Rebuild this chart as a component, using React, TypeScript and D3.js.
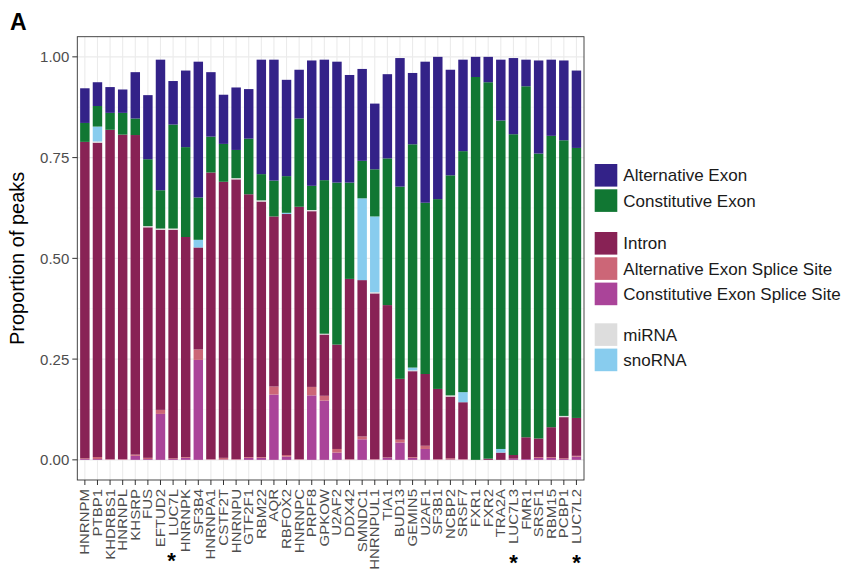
import React from "react";
import * as d3 from "d3";

const WIDTH = 841;
const HEIGHT = 577;

const categories = [
  "HNRNPM", "PTBP1", "KHDRBS1", "HNRNPL", "KHSRP", "FUS", "EFTUD2", "LUC7L", "HNRNPK", "SF3B4",
  "HNRNPA1", "CSTF2T", "HNRNPU", "GTF2F1", "RBM22", "AQR", "RBFOX2", "HNRNPC", "PRPF8", "GPKOW",
  "U2AF2", "DDX42", "SMNDC1", "HNRNPUL1", "TIA1", "BUD13", "GEMIN5", "U2AF1", "SF3B1", "NCBP2",
  "SRSF7", "FXR1", "FXR2", "TRA2A", "LUC7L3", "FMR1", "SRSF1", "RBM15", "PCBP1", "LUC7L2",
];

const starred = ["LUC7L", "LUC7L3", "LUC7L2"];

// proportions per category, one array per peak type
const constitutiveSplice = [
  0.002, 0.002, 0.001, 0.001, 0.010, 0.002, 0.114, 0.002, 0.005, 0.248,
  0.001, 0.001, 0.001, 0.005, 0.005, 0.162, 0.008, 0.001, 0.160, 0.147,
  0.018, 0.001, 0.051, 0.001, 0.005, 0.043, 0.005, 0.027, 0.001, 0.001,
  0.001, 0, 0, 0, 0.003, 0.002, 0.005, 0.005, 0.002, 0.008,
];
const alternativeSplice = [
  0.002, 0.005, 0.001, 0.001, 0.003, 0.003, 0.010, 0.002, 0.002, 0.026,
  0.001, 0.004, 0.001, 0.002, 0.002, 0.020, 0.004, 0.001, 0.021, 0.012,
  0.009, 0.001, 0.007, 0.001, 0.001, 0.007, 0.002, 0.008, 0.001, 0.003,
  0.001, 0, 0, 0, 0, 0, 0.002, 0.002, 0.002, 0.002,
];
const intron = [
  0.785, 0.780, 0.817, 0.805, 0.793, 0.572, 0.447, 0.567, 0.546, 0.253,
  0.711, 0.685, 0.694, 0.652, 0.634, 0.422, 0.598, 0.626, 0.436, 0.152,
  0.259, 0.447, 0.388, 0.411, 0.378, 0.151, 0.213, 0.178, 0.174, 0.153,
  0.141, 0, 0.003, 0.018, 0.009, 0.054, 0.046, 0.074, 0.102, 0.094,
];
const miRNA = [
  0, 0.003, 0, 0, 0, 0.003, 0.003, 0.003, 0, 0,
  0, 0, 0.003, 0, 0.003, 0, 0, 0, 0.003, 0.002,
  0, 0, 0, 0.003, 0, 0, 0.002, 0, 0, 0.003,
  0, 0, 0, 0, 0, 0, 0, 0, 0.003, 0,
];
const snoRNA = [
  0, 0.037, 0, 0, 0, 0, 0, 0, 0, 0.019,
  0, 0, 0, 0, 0, 0, 0.003, 0, 0, 0,
  0, 0, 0.203, 0.188, 0, 0, 0.007, 0, 0, 0,
  0.025, 0, 0, 0.009, 0, 0, 0, 0, 0, 0,
];
const constitutiveExon = [
  0.047, 0.051, 0.042, 0.054, 0.041, 0.166, 0.095, 0.258, 0.223, 0.105,
  0.089, 0.094, 0.070, 0.138, 0.065, 0.089, 0.091, 0.219, 0.060, 0.381,
  0.402, 0.239, 0.093, 0.117, 0.364, 0.477, 0.554, 0.425, 0.471, 0.546,
  0.598, 0.950, 0.934, 0.815, 0.796, 0.871, 0.707, 0.723, 0.684, 0.670,
];
const alternativeExon = [
  0.086, 0.059, 0.064, 0.058, 0.115, 0.159, 0.324, 0.108, 0.190, 0.337,
  0.160, 0.122, 0.155, 0.123, 0.284, 0.300, 0.239, 0.121, 0.311, 0.299,
  0.300, 0.267, 0.228, 0.163, 0.209, 0.319, 0.177, 0.350, 0.353, 0.262,
  0.227, 0.050, 0.063, 0.151, 0.189, 0.066, 0.231, 0.189, 0.198, 0.192,
];

const seriesNames = [
  "Constitutive Exon Splice Site", "Alternative Exon Splice Site", "Intron",
  "miRNA", "snoRNA", "Constitutive Exon", "Alternative Exon",
];
const seriesValues = [
  constitutiveSplice, alternativeSplice, intron, miRNA, snoRNA, constitutiveExon, alternativeExon,
];
const seriesColors = ["#aa4499", "#cc6677", "#882255", "#dddddd", "#88ccee", "#117733", "#332288"];

const legendGroups = [
  ["Alternative Exon", "Constitutive Exon"],
  ["Intron", "Alternative Exon Splice Site", "Constitutive Exon Splice Site"],
  ["miRNA", "snoRNA"],
];

const yTicks = [0, 0.25, 0.5, 0.75, 1];
const yMinor = [0.125, 0.375, 0.625, 0.875];

const margin = { left: 77.3, top: 36.7, right: 584, bottom: 480 };
const FONT = "'Liberation Sans', Arial, sans-serif";

export default function App() {
  const rows = categories.map((c, i) => {
    const r: any = { name: c };
    seriesNames.forEach((s, j) => (r[s] = seriesValues[j][i]));
    return r;
  });
  const stacked = d3.stack().keys(seriesNames)(rows);
  const color = d3.scaleOrdinal<string, string>().domain(seriesNames).range(seriesColors);

  const x = d3
    .scaleBand()
    .domain(categories)
    .range([margin.left, margin.right])
    .paddingInner(0.25)
    .paddingOuter(0.225);
  const y = d3.scaleLinear().domain([-0.05, 1.05]).range([margin.bottom, margin.top]);
  const fmt = d3.format(".2f");
  const cx = (c: string) => (x(c) as number) + x.bandwidth() / 2;

  const legendX = 594.7;
  const legendTops = [164, 232, 323.3];
  const keySize = 22.6;
  const keyStep = 25.3;

  return (
    <svg
      width={WIDTH}
      height={HEIGHT}
      style={{ position: "absolute", left: 0, top: 0, background: "#fff" }}
      fontFamily={FONT}
    >
      <text x={10} y={30} fontSize={23} fontWeight="bold" fill="#000">A</text>

      {/* grid */}
      <g>
        {yMinor.map((t) => (
          <line key={"mi" + t} x1={margin.left} x2={margin.right} y1={y(t)} y2={y(t)} stroke="#f2f2f2" strokeWidth={0.6} />
        ))}
        {yTicks.map((t) => (
          <line key={"ma" + t} x1={margin.left} x2={margin.right} y1={y(t)} y2={y(t)} stroke="#ebebeb" strokeWidth={1.1} />
        ))}
        {categories.map((c) => (
          <line key={"v" + c} x1={cx(c)} x2={cx(c)} y1={margin.top} y2={margin.bottom} stroke="#ebebeb" strokeWidth={1.1} />
        ))}
      </g>

      {/* bars */}
      <g>
        {stacked.map((layer) => (
          <g key={layer.key} fill={color(layer.key)}>
            {layer.map((d, i) =>
              d[1] - d[0] > 0 ? (
                <rect
                  key={i}
                  x={x(categories[i])}
                  width={x.bandwidth()}
                  y={y(d[1])}
                  height={y(d[0]) - y(d[1])}
                />
              ) : null
            )}
          </g>
        ))}
      </g>

      <rect
        x={margin.left}
        y={margin.top}
        width={margin.right - margin.left}
        height={margin.bottom - margin.top}
        fill="none"
        stroke="#333"
        strokeWidth={0.9}
      />

      {/* y axis */}
      <g>
        {yTicks.map((t) => (
          <g key={t}>
            <line x1={margin.left - 5} x2={margin.left} y1={y(t)} y2={y(t)} stroke="#333" strokeWidth={1} />
            <text x={margin.left - 8} y={y(t)} dy="0.36em" textAnchor="end" fontSize={15} fill="#4d4d4d">
              {fmt(t)}
            </text>
          </g>
        ))}
        <text
          transform={`translate(23.5, ${(margin.top + margin.bottom) / 2}) rotate(-90)`}
          textAnchor="middle"
          fontSize={20}
          fill="#000"
        >
          Proportion of peaks
        </text>
      </g>

      {/* x axis */}
      <g>
        {categories.map((c) => (
          <g key={c}>
            <line x1={cx(c)} x2={cx(c)} y1={margin.bottom} y2={margin.bottom + 5} stroke="#333" strokeWidth={1} />
            <text
              transform={`translate(${cx(c) + 4.5}, ${margin.bottom + 9}) rotate(-90) scale(1.2, 1)`}
              textAnchor="end"
              fontSize={12.5}
              fill="#4d4d4d"
            >
              {c}
            </text>
          </g>
        ))}
        {starred.map((c, i) => (
          <text
            key={"s" + c}
            x={cx(c) - (i === 0 ? 1.5 : 0)}
            y={i === 0 ? 568 : 570}
            textAnchor="middle"
            fontSize={22}
            fontWeight="bold"
            fill="#000"
          >
            *
          </text>
        ))}
      </g>

      {/* legend */}
      <g>
        {legendGroups.map((grp, gi) =>
          grp.map((name, k) => {
            const top = legendTops[gi] + k * keyStep;
            return (
              <g key={name}>
                <rect x={legendX} y={top} width={keySize} height={keySize} fill={color(name)} />
                <text x={623.3} y={top + keySize / 2} dy="0.36em" fontSize={17} fill="#1a1a1a">
                  {name}
                </text>
              </g>
            );
          })
        )}
      </g>
    </svg>
  );
}
